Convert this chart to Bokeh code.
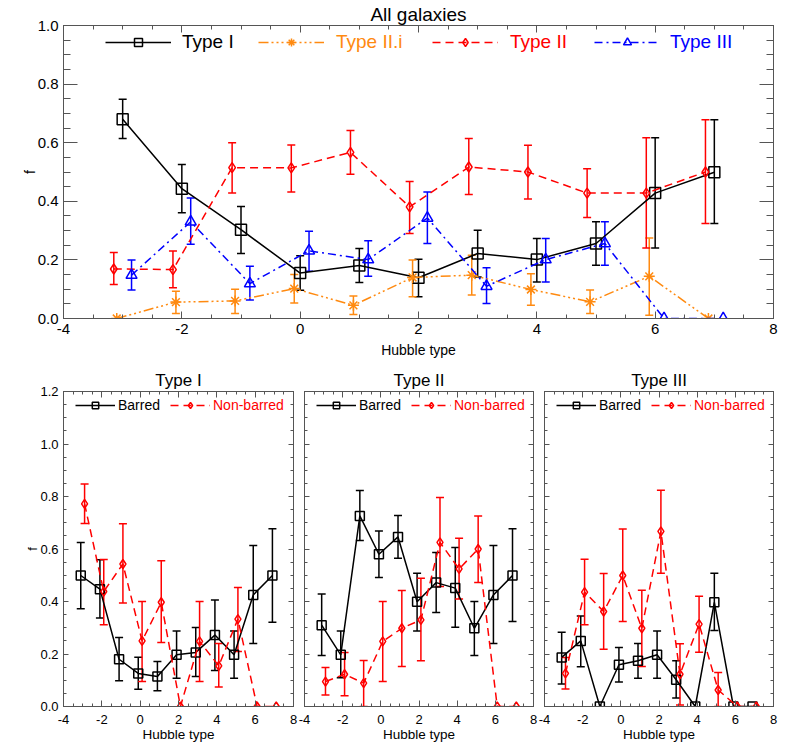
import numpy as np
from bokeh.plotting import figure
from bokeh.models import (ColumnDataSource, Whisker, TeeHead, Legend, LegendItem,
                          FixedTicker, LinearAxis, PrintfTickFormatter, Range1d,
                          CustomJSTickFormatter)
from bokeh.layouts import column, row
from bokeh.embed import file_html
from bokeh.resources import INLINE

# ---------------- data ----------------
hubble = [-3, -2, -1, 0, 1, 2, 3, 4, 5, 6, 7]

# All galaxies
typeI = [0.680, 0.443, 0.303, 0.155, 0.181, 0.139, 0.222, 0.201, 0.256, 0.428, 0.499]
typeI_lo = [0.614, 0.361, 0.222, 0.096, 0.123, 0.074, 0.142, 0.125, 0.182, 0.241, 0.324]
typeI_hi = [0.748, 0.526, 0.382, 0.214, 0.239, 0.202, 0.301, 0.273, 0.330, 0.617, 0.678]

typeIIi = [0.000, 0.056, 0.060, 0.102, 0.045, 0.140, 0.148, 0.099, 0.057, 0.144, 0.000]
typeIIi_lo = [0.000, 0.017, 0.017, 0.053, 0.014, 0.074, 0.080, 0.045, 0.017, 0.011, 0.000]
typeIIi_hi = [0.000, 0.093, 0.100, 0.150, 0.077, 0.200, 0.216, 0.153, 0.097, 0.275, 0.000]

typeII = [0.169, 0.167, 0.515, 0.514, 0.567, 0.381, 0.517, 0.500, 0.428, 0.428, 0.500]
typeII_lo = [0.116, 0.105, 0.428, 0.432, 0.492, 0.290, 0.423, 0.408, 0.345, 0.241, 0.324]
typeII_hi = [0.225, 0.230, 0.600, 0.592, 0.642, 0.468, 0.614, 0.591, 0.511, 0.617, 0.678]

typeIII = [0.148, 0.330, 0.119, 0.231, 0.201, 0.343, 0.110, 0.201, 0.256, 0.000, 0.000]
typeIII_lo = [0.097, 0.253, 0.063, 0.161, 0.144, 0.256, 0.051, 0.125, 0.182, 0.000, 0.000]
typeIII_hi = [0.200, 0.411, 0.178, 0.298, 0.265, 0.432, 0.173, 0.273, 0.330, 0.000, 0.000]

# Type I: barred / non-barred
t1_bar = [0.499, 0.447, 0.180, 0.126, 0.114, 0.197, 0.206, 0.272, 0.197, 0.425, 0.499]
t1_bar_lo = [0.372, 0.337, 0.098, 0.066, 0.060, 0.108, 0.114, 0.137, 0.108, 0.240, 0.321]
t1_bar_hi = [0.625, 0.559, 0.263, 0.188, 0.171, 0.288, 0.301, 0.406, 0.288, 0.613, 0.677]
t1_non = [0.772, 0.438, 0.543, 0.250, 0.397, 0.000, 0.248, 0.155, 0.333, 0.000, 0.000]
t1_non_lo = [0.697, 0.311, 0.394, 0.095, 0.244, 0.000, 0.095, 0.074, 0.210, 0.000, 0.000]
t1_non_hi = [0.848, 0.560, 0.696, 0.400, 0.555, 0.000, 0.400, 0.240, 0.453, 0.000, 0.000]

# Type II: barred / non-barred
t2_bar = [0.310, 0.197, 0.726, 0.580, 0.646, 0.399, 0.472, 0.451, 0.298, 0.425, 0.499]
t2_bar_lo = [0.194, 0.110, 0.632, 0.491, 0.565, 0.288, 0.358, 0.302, 0.194, 0.240, 0.324]
t2_bar_hi = [0.429, 0.288, 0.823, 0.669, 0.728, 0.508, 0.587, 0.606, 0.400, 0.613, 0.677]
t2_non = [0.095, 0.123, 0.089, 0.248, 0.298, 0.330, 0.625, 0.524, 0.600, 0.000, 0.000]
t2_non_lo = [0.044, 0.041, 0.000, 0.095, 0.152, 0.174, 0.457, 0.410, 0.472, 0.000, 0.000]
t2_non_hi = [0.149, 0.206, 0.175, 0.400, 0.442, 0.489, 0.796, 0.641, 0.726, 0.000, 0.000]

# Type III: barred / non-barred
t3_bar = [0.187, 0.250, 0.000, 0.159, 0.174, 0.197, 0.102, 0.000, 0.397, 0.000, 0.000]
t3_bar_lo = [0.086, 0.151, 0.000, 0.093, 0.108, 0.108, 0.032, 0.000, 0.290, 0.000, 0.000]
t3_bar_hi = [0.283, 0.345, 0.000, 0.225, 0.240, 0.288, 0.174, 0.000, 0.508, 0.000, 0.000]
t3_non = [0.126, 0.436, 0.362, 0.499, 0.298, 0.667, 0.123, 0.314, 0.063, 0.000, 0.000]
t3_non_lo = [0.067, 0.311, 0.218, 0.324, 0.152, 0.508, 0.006, 0.207, 0.000, 0.000, 0.000]
t3_non_hi = [0.187, 0.561, 0.507, 0.676, 0.443, 0.824, 0.239, 0.420, 0.130, 0.000, 0.000]

# ---------------- styling ----------------
FONT = "Liberation Sans"
AX = "#555555"
ORANGE = "#ff8a10"


def make_series(p, off, y, lo, hi, color, dash, marker, msize, lw=1.5, cap=8):
    x = [h + off for h in hubble]
    src = ColumnDataSource(dict(x=x, y=y))
    ln = p.line("x", "y", source=src, line_color=color, line_width=lw, line_dash=dash)
    sc = p.scatter("x", "y", source=src, marker=marker, size=msize,
                   line_color=color, fill_color=None, line_width=lw)
    keep = [i for i in range(len(x)) if hi[i] > lo[i]]
    esrc = ColumnDataSource(dict(x=[x[i] for i in keep], lo=[lo[i] for i in keep],
                                 hi=[hi[i] for i in keep]))
    w = Whisker(source=esrc, base="x", lower="lo", upper="hi", dimension="height",
                line_color=color, line_width=lw,
                upper_head=TeeHead(size=cap, line_color=color, line_width=lw),
                lower_head=TeeHead(size=cap, line_color=color, line_width=lw))
    p.add_layout(w)
    return [ln, sc]


def style_axis(ax, tmaj, tmin, fs, show_labels=True):
    ax.major_tick_in = tmaj
    ax.major_tick_out = 0
    ax.minor_tick_in = tmin
    ax.minor_tick_out = 0
    ax.axis_line_color = AX
    ax.major_tick_line_color = AX
    ax.minor_tick_line_color = AX
    ax.major_label_text_font = FONT
    ax.axis_label_text_font = FONT
    ax.axis_label_text_font_style = "normal"
    ax.axis_label_text_color = "black"
    ax.major_label_text_color = "black"
    if show_labels:
        ax.major_label_text_font_size = fs
    else:
        ax.formatter = CustomJSTickFormatter(code="return '';")
        ax.major_label_text_font_size = "1px"
        ax.major_label_standoff = 0


def add_legend(p, label, renderers, color, loc, gw, gh, fs, standoff):
    leg = Legend(items=[LegendItem(label=label, renderers=renderers)],
                 location=loc, orientation="horizontal", glyph_width=gw, glyph_height=gh,
                 padding=0, margin=0, spacing=0, label_standoff=standoff,
                 border_line_color=None, background_fill_alpha=0,
                 label_text_color=color, label_text_font=FONT, label_text_font_size=fs,
                 label_height=gh)
    p.add_layout(leg)


def setup_fig(fw, fh, bl, br, bt, bb, title, title_fs, title_standoff, xmin_ticks, ymax,
              xt, yt, tick_fs, show_y):
    p = figure(frame_width=fw, frame_height=fh, x_range=Range1d(-4, 8), y_range=Range1d(0, ymax),
               output_backend="svg", toolbar_location=None,
               min_border_left=bl, min_border_right=br, min_border_top=bt, min_border_bottom=bb)
    p.grid.visible = False
    p.outline_line_color = AX
    p.background_fill_color = "white"
    p.border_fill_color = "white"
    p.title.text = title
    p.title.text_font = FONT
    p.title.text_font_size = title_fs
    p.title.text_font_style = "normal"
    p.title.text_color = "black"
    p.title.align = "center"
    p.title.standoff = title_standoff

    xticker = FixedTicker(ticks=[-4, -2, 0, 2, 4, 6, 8], minor_ticks=xmin_ticks)
    yticks = [round(v, 2) for v in np.arange(0, ymax + 1e-9, 0.2)]
    yminor = [round(v, 2) for v in np.arange(0, ymax + 1e-9, 0.05)]
    yticker = FixedTicker(ticks=yticks, minor_ticks=yminor)

    xb = p.below[0]
    yl = p.left[0]
    xb.ticker = xticker
    yl.ticker = yticker
    xb.formatter = PrintfTickFormatter(format="%d")
    yl.formatter = PrintfTickFormatter(format="%.1f")
    style_axis(xb, xt[0], xt[1], tick_fs, True)
    style_axis(yl, yt[0], yt[1], tick_fs, show_y)

    top = LinearAxis(ticker=xticker)
    style_axis(top, xt[0], xt[1], tick_fs, False)
    p.add_layout(top, "above")
    right = LinearAxis(ticker=yticker)
    style_axis(right, yt[0], yt[1], tick_fs, False)
    p.add_layout(right, "right")
    return p, xb, yl


half_ticks = [v / 2 for v in range(-8, 17)]

# ---------------- top panel ----------------
pt, ptx, pty = setup_fig(710, 293, 63, 8, 25, 41, "All galaxies", "19px", 2,
                         half_ticks, 1.0, (7, 4), (14, 7), "15px", True)
ptx.axis_label = "Hubble type"
ptx.axis_label_text_font_size = "14px"
ptx.major_label_standoff = 5
ptx.axis_label_standoff = 5
pty.axis_label = "f"
pty.axis_label_text_font_size = "14px"
pty.major_label_standoff = 5
pty.axis_label_standoff = -3

r_I = make_series(pt, 0.0, typeI, typeI_lo, typeI_hi, "black", "solid", "square", 11)
r_IIi = make_series(pt, -0.1, typeIIi, typeIIi_lo, typeIIi_hi, ORANGE, "10 3 2 3 2 3 2 3", "asterisk", 11)
r_II = make_series(pt, -0.15, typeII, typeII_lo, typeII_hi, "red", "8 5", "diamond", 10)
r_III = make_series(pt, 0.15, typeIII, typeIII_lo, typeIII_hi, "blue", "8 4 2 4", "triangle", 11)

add_legend(pt, "Type I", r_I, "black", (42, 265), 66, 20, "19px", 11)
add_legend(pt, "Type II.i", r_IIi, ORANGE, (195, 265), 66, 20, "19px", 12)
add_legend(pt, "Type II", r_II, "red", (369, 265), 66, 20, "19px", 12)
add_legend(pt, "Type III", r_III, "blue", (531, 265), 66, 20, "19px", 10)

# ---------------- bottom panels ----------------
bottom_sets = [
    ("Type I", t1_bar, t1_bar_lo, t1_bar_hi, t1_non, t1_non_lo, t1_non_hi),
    ("Type II", t2_bar, t2_bar_lo, t2_bar_hi, t2_non, t2_non_lo, t2_non_hi),
    ("Type III", t3_bar, t3_bar_lo, t3_bar_hi, t3_non, t3_non_lo, t3_non_hi),
]
dims = [(230, 63, 5), (229, 6, 5), (229, 6, 8)]
panels = []
for k, (ttl, b, blo, bhi, n, nlo, nhi) in enumerate(bottom_sets):
    fw, bl, br = dims[k]
    p, px, py = setup_fig(fw, 315, bl, br, 31, 38, ttl, "17px", 4, half_ticks, 1.2,
                          (6, 3), (5, 3), "13px", k == 0)
    px.axis_label = "Hubble type"
    px.axis_label_text_font_size = "13.5px"
    px.major_label_standoff = 8
    px.axis_label_standoff = 0
    if k == 0:
        py.axis_label = "f"
        py.axis_label_text_font_size = "13px"
        py.major_label_standoff = 5
        py.axis_label_standoff = -3
    rb = make_series(p, -0.1, b, blo, bhi, "black", "solid", "square", 9)
    rn = make_series(p, 0.1, n, nlo, nhi, "red", "8 5", "diamond", 9)
    add_legend(p, "Barred", rb, "black", (12, 293), 40, 16, "14px", 3)
    add_legend(p, "Non-barred", rn, "red", (107, 293), 40, 16, "14px", 3)
    panels.append(p)

layout = column(pt, row(*panels))
open("out.html", "w").write(file_html(layout, INLINE))
